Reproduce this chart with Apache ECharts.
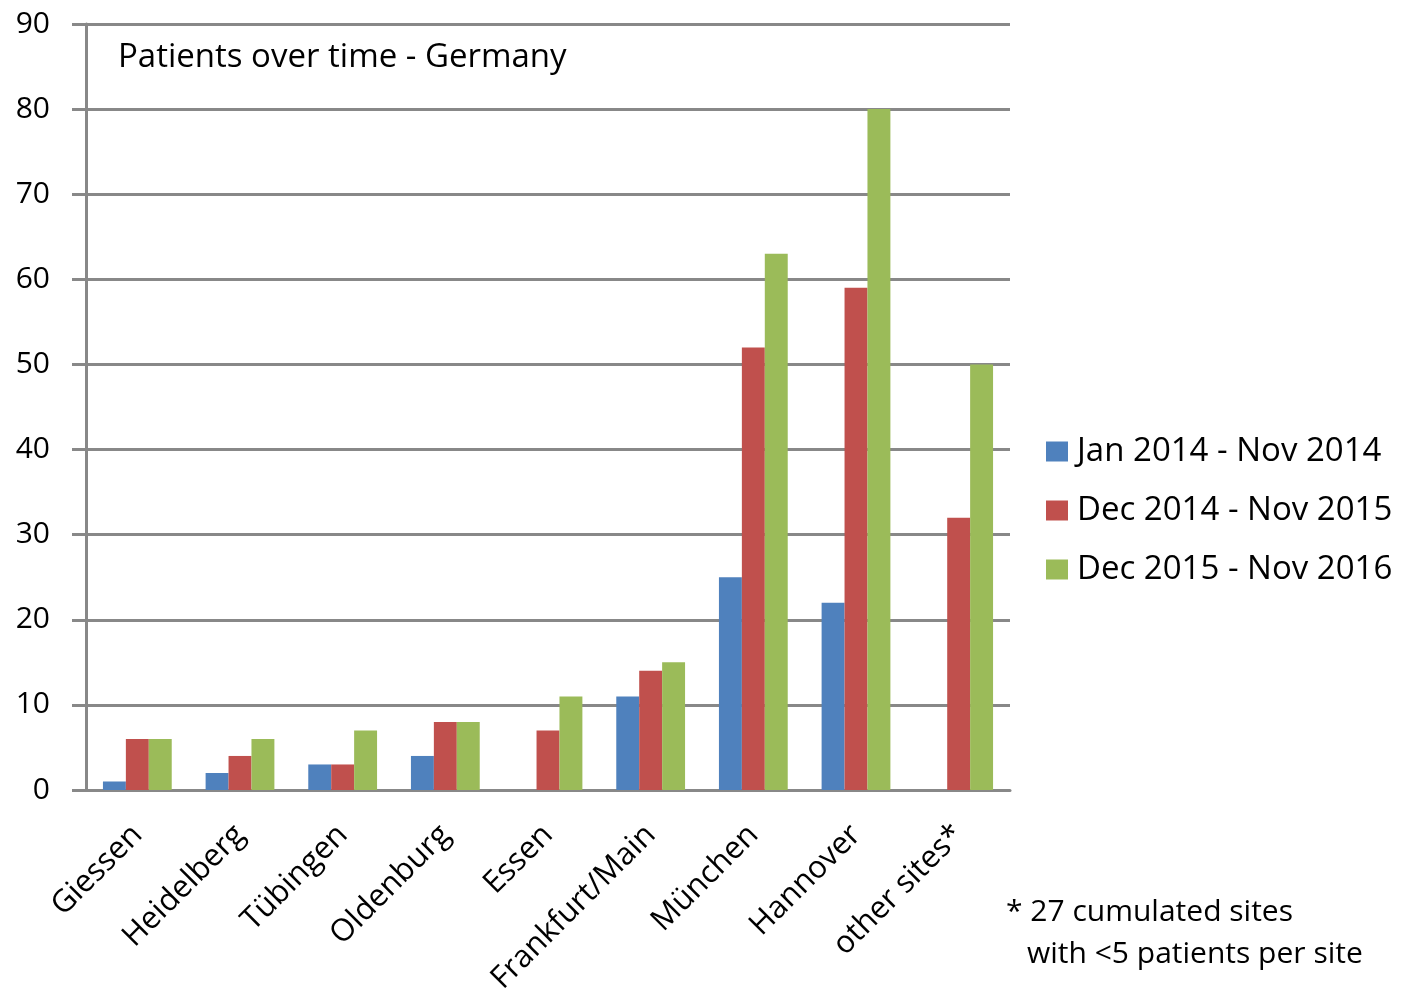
<!DOCTYPE html>
<html>
<head>
<meta charset="utf-8">
<script src="https://cdn.jsdelivr.net/npm/echarts@6/dist/echarts.min.js"></script>
<style>
  html, body { margin: 0; padding: 0; background: #fff; }
  #chart { width: 1403px; height: 1008px; }
</style>
</head>
<body>
<div id="chart"></div>
<script>
// sites, left to right
var sites = ['Giessen', 'Heidelberg', 'Tübingen', 'Oldenburg', 'Essen', 'Frankfurt/Main', 'München', 'Hannover', 'other sites*'];

var period1 = [1, 2, 3, 4, 0, 11, 25, 22, 0];     // Jan 2014 - Nov 2014
var period2 = [6, 4, 3, 8, 7, 14, 52, 59, 32];    // Dec 2014 - Nov 2015
var period3 = [6, 6, 7, 8, 11, 15, 63, 80, 50];   // Dec 2015 - Nov 2016

var seriesNames = ['Jan 2014 - Nov 2014', 'Dec 2014 - Nov 2015', 'Dec 2015 - Nov 2016'];
var yTicks = [0, 10, 20, 30, 40, 50, 60, 70, 80, 90];

var font = 'Open Sans';
var gray = '#888888';

var chart = echarts.init(document.getElementById('chart'));

chart.setOption({
  animation: false,
  textStyle: { fontFamily: font },
  title: {
    text: 'Patients over time - Germany',
    left: 113,
    top: 36,
    textStyle: { fontFamily: font, fontSize: 33, fontWeight: 'normal', color: '#000' }
  },
  grid: {
    left: 86,
    right: 393,
    top: 24,
    bottom: 218
  },
  legend: {
    orient: 'vertical',
    left: 1041,
    top: 430,
    itemWidth: 22,
    itemHeight: 20,
    itemGap: 26,
    icon: 'rect',
    textStyle: { fontFamily: font, fontSize: 33, color: '#000', padding: [0, 0, 0, 4] },
    data: seriesNames
  },
  xAxis: {
    type: 'category',
    data: sites,
    axisLine: { lineStyle: { color: gray, width: 3 } },
    axisTick: { length: 10, lineStyle: { color: gray, width: 2 } },
    axisLabel: {
      rotate: 45,
      margin: 40,
      interval: 0,
      fontFamily: font,
      fontSize: 31,
      color: '#000'
    }
  },
  yAxis: {
    type: 'value',
    min: yTicks[0],
    max: yTicks[yTicks.length - 1],
    interval: 10,
    axisLine: { show: true, lineStyle: { color: gray, width: 3 } },
    axisTick: { show: true, length: 14, lineStyle: { color: gray, width: 3 } },
    splitLine: { lineStyle: { color: gray, width: 3 } },
    axisLabel: {
      margin: 36,
      fontFamily: font,
      fontSize: 30,
      color: '#000'
    }
  },
  graphic: [{
    type: 'text',
    left: 1006,
    top: 897,
    style: { text: '* 27 cumulated sites', font: '30px "Open Sans"', fill: '#000' }
  }, {
    type: 'text',
    left: 1027,
    top: 939,
    style: { text: 'with <5 patients per site', font: '30px "Open Sans"', fill: '#000' }
  }],
  series: [{
    name: seriesNames[0],
    type: 'bar',
    data: period1,
    barGap: '0%',
    barCategoryGap: '33%',
    itemStyle: { color: '#4F81BD' }
  }, {
    name: seriesNames[1],
    type: 'bar',
    data: period2,
    barGap: '0%',
    barCategoryGap: '33%',
    itemStyle: { color: '#C0504D' }
  }, {
    name: seriesNames[2],
    type: 'bar',
    data: period3,
    barGap: '0%',
    barCategoryGap: '33%',
    itemStyle: { color: '#9BBB59' }
  }]
});
</script>
</body>
</html>
